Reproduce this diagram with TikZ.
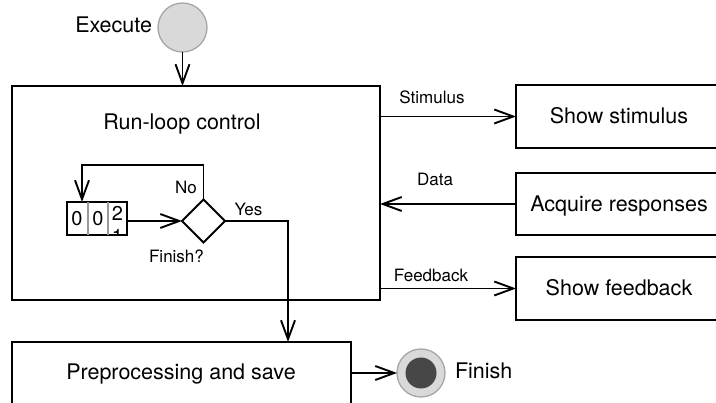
\documentclass[tikz,border=0pt]{standalone}
\usepackage{fontspec}
\setmainfont{TeX Gyre Heros}
\usetikzlibrary{arrows.meta,shapes.geometric}

\begin{document}
\begin{tikzpicture}[x=1pt,y=-1pt,line width=1.9pt,
  every node/.style={inner sep=0pt, outer sep=0pt},
  big/.style={font=\fontsize{21.5}{24}\selectfont, text height=15pt, text depth=0pt},
  small/.style={font=\fontsize{17}{20}\selectfont, text height=12pt, text depth=0pt},
  digit/.style={font=\fontsize{20}{22}\selectfont, text height=14pt, text depth=0pt},
  box/.style={draw, rectangle, line width=1.9pt},
  arr/.style={-{Straight Barb[length=19pt,width=14pt]}},
  sep/.style={draw=black!40, line width=1.1pt},
  startdot/.style={circle, draw=black!35, fill=black!15, line width=1.3pt},
]
\useasboundingbox (0,0) rectangle (716,403);
\clip (0,0) rectangle (716,403);

% start state
\node[startdot, minimum size=49pt] (exec) at (182.5,27.5) {};
\node[big, anchor=east] (execlbl) at (152,25.5) {Execute};

% run-loop control block
\node[box, minimum width=368pt, minimum height=214pt] (main) at (196,193) {};
\node[big] (runloop) at (182,122) {Run-loop control};

% peripheral tasks
\node[box, big, minimum width=206pt, minimum height=63pt] (stim) at (619,116.5) {Show stimulus};
\node[box, big, minimum width=206pt, minimum height=62pt] (acq) at (619,204) {Acquire responses};
\node[box, big, minimum width=206pt, minimum height=63pt] (fb) at (619,288.5) {Show feedback};

% preprocessing block
\node[box, minimum width=339pt, minimum height=76pt] (prep) at (181.5,380) {};
\node[big] (preptxt) at (181,372) {Preprocessing and save};

% trial counter (odometer style)
\node[digit] (d1) at (77,218.5) {0};
\node[digit] (d2) at (98,218.5) {0};
\begin{scope}
  \clip (108,202) rectangle (127,235);
  \node[digit] (d3) at (117.5,213.5) {2};
  \node[digit] (d4) at (117.5,237) {1};
\end{scope}
\node[draw, minimum width=60pt, minimum height=33pt] (cnt) at (97,218.5) {};
\draw[sep] ([xshift=21pt]cnt.north west) -- ([xshift=21pt]cnt.south west);
\draw[sep] ([xshift=41pt]cnt.north west) -- ([xshift=41pt]cnt.south west);

% decision
\node[diamond, draw, aspect=1, minimum width=43pt, minimum height=43pt] (dia) at (203.5,221) {};
\node[small] (nolbl) at (186,188) {No};
\node[small] (yeslbl) at (248.5,209.5) {Yes};
\node[small] (finq) at (176.5,256.5) {Finish?};

% end state
\node[startdot, minimum size=48pt] (fin) at (421,373) {};
\node[circle, fill=black!72, minimum size=31pt] (finin) at (fin) {};
\node[big, anchor=west] (finlbl) at (455,371.5) {Finish};

% connectors
\draw[arr] (exec.south) -- (exec.south |- main.north);
\draw[arr] (main.east |- stim.west) -- (stim.west);
\node[small] (stimlbl) at (432,97.5) {Stimulus};
\draw[arr] (acq.west) -- (acq.west -| main.east);
\node[small] (datalbl) at (435,180) {Data};
\draw[arr] (main.east |- fb.west) -- (fb.west);
\node[small] (fblbl) at (431,276) {Feedback};

\draw[arr] (cnt.east |- dia.west) -- (dia.west);
\coordinate (loopl) at (82,165);
\draw[arr] (dia.north) |- (loopl) -- (loopl |- cnt.north);
\coordinate (yesturn) at (288,221);
\draw[arr] (dia.east) -- (yesturn) -- (yesturn |- prep.north);
\draw[arr] (prep.east |- fin) -- (fin.west);
\end{tikzpicture}
\end{document}
